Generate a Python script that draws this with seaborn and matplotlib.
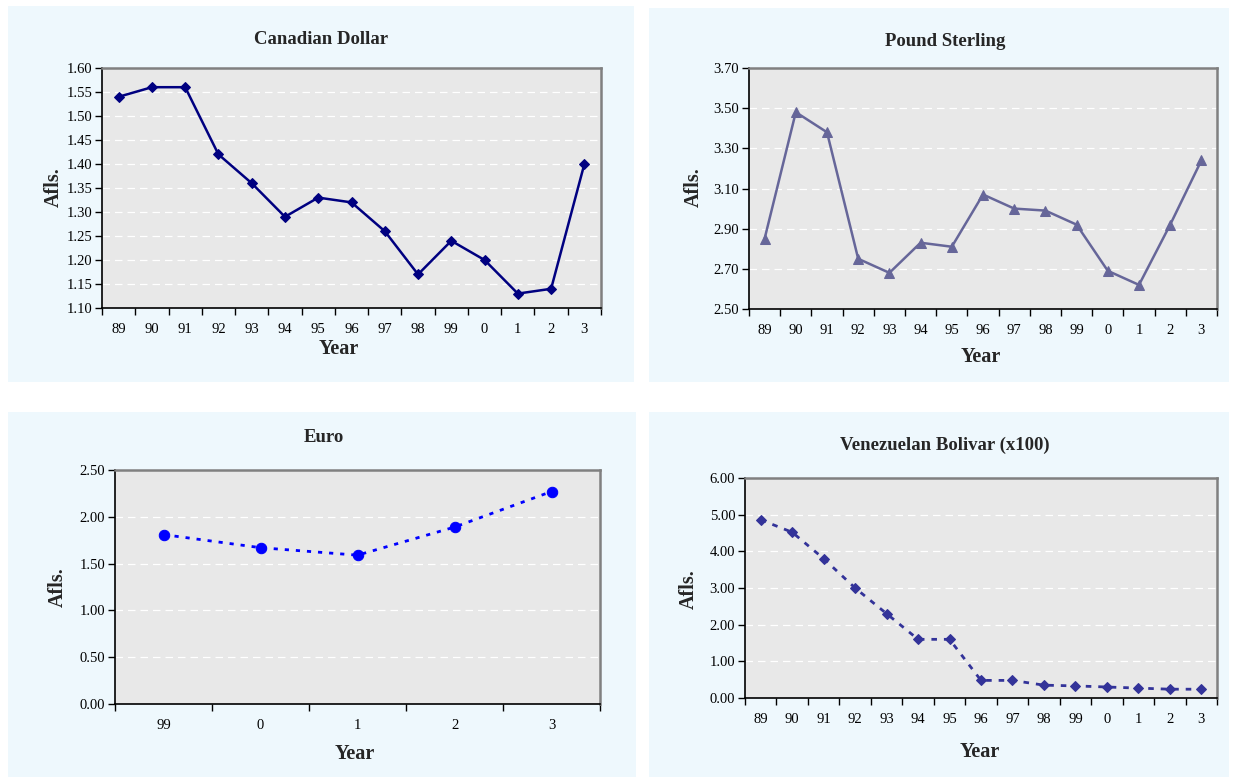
import numpy as np
import pandas as pd
import matplotlib
matplotlib.use("Agg")
import matplotlib.pyplot as plt
from matplotlib.patches import Rectangle
from matplotlib.ticker import FixedLocator, FormatStrFormatter
import seaborn as sns

sns.set_style("white")
plt.rcParams['font.family'] = ['Liberation Serif', 'DejaVu Serif']

# ---- data ----
years_long = ["89", "90", "91", "92", "93", "94", "95", "96", "97", "98", "99", "0", "1", "2", "3"]
years_euro = ["99", "0", "1", "2", "3"]
cad = [1.54, 1.56, 1.56, 1.42, 1.36, 1.29, 1.33, 1.32, 1.26, 1.17, 1.24, 1.20, 1.13, 1.14, 1.40]
gbp = [2.85, 3.48, 3.38, 2.75, 2.68, 2.83, 2.81, 3.07, 3.00, 2.99, 2.92, 2.69, 2.62, 2.92, 3.24]
eur = [1.81, 1.67, 1.59, 1.89, 2.27]
veb = [4.86, 4.52, 3.80, 3.00, 2.30, 1.60, 1.60, 0.48, 0.48, 0.35, 0.33, 0.30, 0.27, 0.24, 0.24]

W, H = 1237, 778
fig = plt.figure(figsize=(W / 100, H / 100), dpi=100)
fig.patch.set_facecolor("white")

PANEL = "#EEF8FD"
PLOT_BG = "#E8E8E8"


def fx(x):
    return x / W


def fy(y):
    return 1 - y / H


def panel(x0, y0, x1, y1):
    fig.patches.append(Rectangle((fx(x0), fy(y1)), (x1 - x0) / W, (y1 - y0) / H,
                                 transform=fig.transFigure, facecolor=PANEL,
                                 edgecolor="none", zorder=-10))


def make_ax(l, r, t, b):
    return fig.add_axes([l / W, 1 - b / H, (r - l) / W, (b - t) / H])


def style(ax, cats, values, ylim, ystep, color, marker, ms, ls, lw):
    df = pd.DataFrame({"pos": np.arange(len(cats)), "val": values})
    sns.lineplot(data=df, x="pos", y="val", ax=ax, color=color, marker=marker,
                 markersize=ms, markeredgecolor=color, linestyle=ls, linewidth=lw,
                 sort=False, zorder=5)
    ax.set_facecolor(PLOT_BG)
    n = len(cats)
    ax.set_xlim(-0.5, n - 0.5)
    ax.set_ylim(*ylim)
    yt = np.round(np.arange(ylim[0], ylim[1] + ystep / 2, ystep), 4)
    ax.yaxis.set_major_locator(FixedLocator(yt))
    ax.yaxis.set_major_formatter(FormatStrFormatter("%.2f"))
    ax.set_xticks(np.arange(n))
    ax.set_xticklabels(cats)
    ax.xaxis.set_minor_locator(FixedLocator(np.arange(n + 1) - 0.5))
    ax.tick_params(axis="x", which="major", length=0, pad=11, labelsize=10.5, colors="black")
    ax.tick_params(axis="x", which="minor", length=5, width=1, direction="out", color="black", bottom=True)
    ax.tick_params(axis="y", which="major", length=5, width=1, direction="out", left=True,
                   labelsize=10.5, pad=2, colors="black")
    for y in yt[1:-1]:
        ax.axhline(y, color="white", linestyle=(0, (6, 4)), linewidth=0.9, zorder=1)
    ax.grid(False)
    for s in ["left", "bottom"]:
        ax.spines[s].set_color("black")
        ax.spines[s].set_linewidth(1.2)
    for s in ["top", "right"]:
        ax.spines[s].set_color("#808080")
        ax.spines[s].set_linewidth(1.8)
    ax.set_xlabel("")
    ax.set_ylabel("")


def labels(title, tpos, xpos, ypos):
    fig.text(fx(tpos[0]), fy(tpos[1]), title, ha="center", va="center",
             fontsize=13.5, fontweight="bold")
    fig.text(fx(xpos[0]), fy(xpos[1]), "Year", ha="center", va="center",
             fontsize=14.5, fontweight="bold")
    fig.text(fx(ypos[0]), fy(ypos[1]), "Afls.", ha="center", va="center",
             rotation=90, fontsize=14.5, fontweight="bold")


# panels
panel(8, 6, 634, 382)
panel(649, 8, 1229, 382)
panel(8, 412, 636, 777)
panel(649, 412, 1229, 777)

ax1 = make_ax(102, 601, 68, 308)
style(ax1, years_long, cad, (1.10, 1.60), 0.05, "#000080", "D", 5.5, "-", 1.8)
labels("Canadian Dollar", (321, 40), (339, 349), (54, 187))

ax2 = make_ax(749, 1217, 68, 309)
style(ax2, years_long, gbp, (2.50, 3.70), 0.20, "#666699", "^", 6.5, "-", 1.8)
labels("Pound Sterling", (945, 42), (981, 357), (694, 187))

ax3 = make_ax(115, 600, 470, 704)
style(ax3, years_euro, eur, (0.00, 2.50), 0.50, "#0000FF", "o", 7.5, (0, (1.5, 2.5)), 2.0)
labels("Euro", (324, 438), (355, 754), (58, 587))

ax4 = make_ax(745, 1217, 478, 698)
style(ax4, years_long, veb, (0.00, 6.00), 1.00, "#333399", "D", 5.5, (0, (2.0, 2.5)), 2.0)
labels("Venezuelan Bolivar (x100)", (945, 445), (980, 752), (689, 589))

fig.savefig("out.png", dpi=100, facecolor="white")
